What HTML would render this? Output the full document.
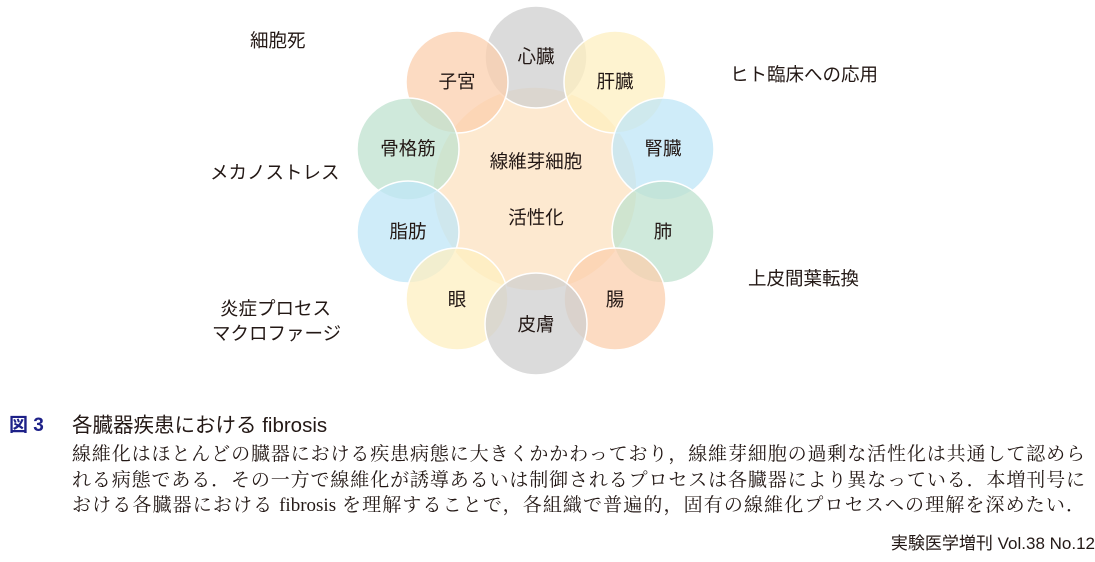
<!DOCTYPE html>
<html><head><meta charset="utf-8"><style>
body{margin:0;width:1095px;height:562px;background:#fff;position:relative;overflow:hidden;font-family:"Liberation Sans","Noto Sans CJK JP",sans-serif;color:#231815}
.l{position:absolute;font-size:18.5px;white-space:nowrap}
.cap{position:absolute;left:72px;width:1013px;font-family:"Liberation Serif","Noto Serif CJK SC",serif;font-size:19px;text-align:justify;text-align-last:justify;white-space:nowrap}
</style></head><body>
<svg width="1095" height="380" style="position:absolute;left:0;top:0">
<g stroke="#fff" stroke-width="1.5">
<circle cx="535" cy="189" r="102" fill="#fde3c4" fill-opacity="0.8"/>
<circle cx="536" cy="57" r="51" fill="#cfcfcf" fill-opacity="0.75"/>
<circle cx="457" cy="82" r="51" fill="#fbcfae" fill-opacity="0.75"/>
<circle cx="615" cy="82" r="51" fill="#fdefc0" fill-opacity="0.75"/>
<circle cx="408" cy="149" r="51" fill="#bfe1cf" fill-opacity="0.75"/>
<circle cx="663" cy="149" r="51" fill="#bfe6f7" fill-opacity="0.75"/>
<circle cx="408" cy="232" r="51" fill="#bfe6f7" fill-opacity="0.75"/>
<circle cx="663" cy="232" r="51" fill="#bfe1cf" fill-opacity="0.75"/>
<circle cx="457" cy="299" r="51" fill="#fdefc0" fill-opacity="0.75"/>
<circle cx="615" cy="299" r="51" fill="#fbcfae" fill-opacity="0.75"/>
<circle cx="536" cy="324" r="51" fill="#cfcfcf" fill-opacity="0.75"/>
</g>
<g font-family="Liberation Sans,Noto Sans CJK JP,sans-serif" font-size="18.5" fill="#231815" text-anchor="middle">
<text x="536" y="63">心臓</text><text x="457" y="88">子宮</text><text x="615" y="88">肝臓</text>
<text x="408" y="155">骨格筋</text><text x="663" y="155">腎臓</text>
<text x="408" y="238">脂肪</text><text x="663" y="238">肺</text>
<text x="457" y="306">眼</text><text x="615" y="306">腸</text><text x="536" y="331">皮膚</text>
<text x="536" y="168">線維芽細胞</text><text x="536" y="224">活性化</text>
</g></svg>
<div class="l" style="left:250px;top:27px">細胞死</div>
<div class="l" style="left:210px;top:159px">メカノストレス</div>
<div class="l" style="left:220px;top:295px">炎症プロセス</div>
<div class="l" style="left:212px;top:320px">マクロファージ</div>
<div class="l" style="left:730px;top:61px">ヒト臨床への応用</div>
<div class="l" style="left:748px;top:265px">上皮間葉転換</div>
<div style="position:absolute;left:9px;top:410px;font-size:19px;font-weight:bold;color:#1d2088">図 3</div>
<div style="position:absolute;left:72px;top:408px;font-size:20.5px;white-space:nowrap">各臓器疾患における fibrosis</div>
<div class="cap" style="top:439px">線維化はほとんどの臓器における疾患病態に大きくかかわっており，線維芽細胞の過剰な活性化は共通して認めら</div>
<div class="cap" style="top:465px">れる病態である．その一方で線維化が誘導あるいは制御されるプロセスは各臓器により異なっている．本増刊号に</div>
<div class="cap" style="top:490px">おける各臓器における fibrosis を理解することで，各組織で普遍的，固有の線維化プロセスへの理解を深めたい．</div>
<div style="position:absolute;right:0;top:529px;font-size:17px;white-space:nowrap">実験医学増刊 Vol.38 No.12</div>
</body></html>
